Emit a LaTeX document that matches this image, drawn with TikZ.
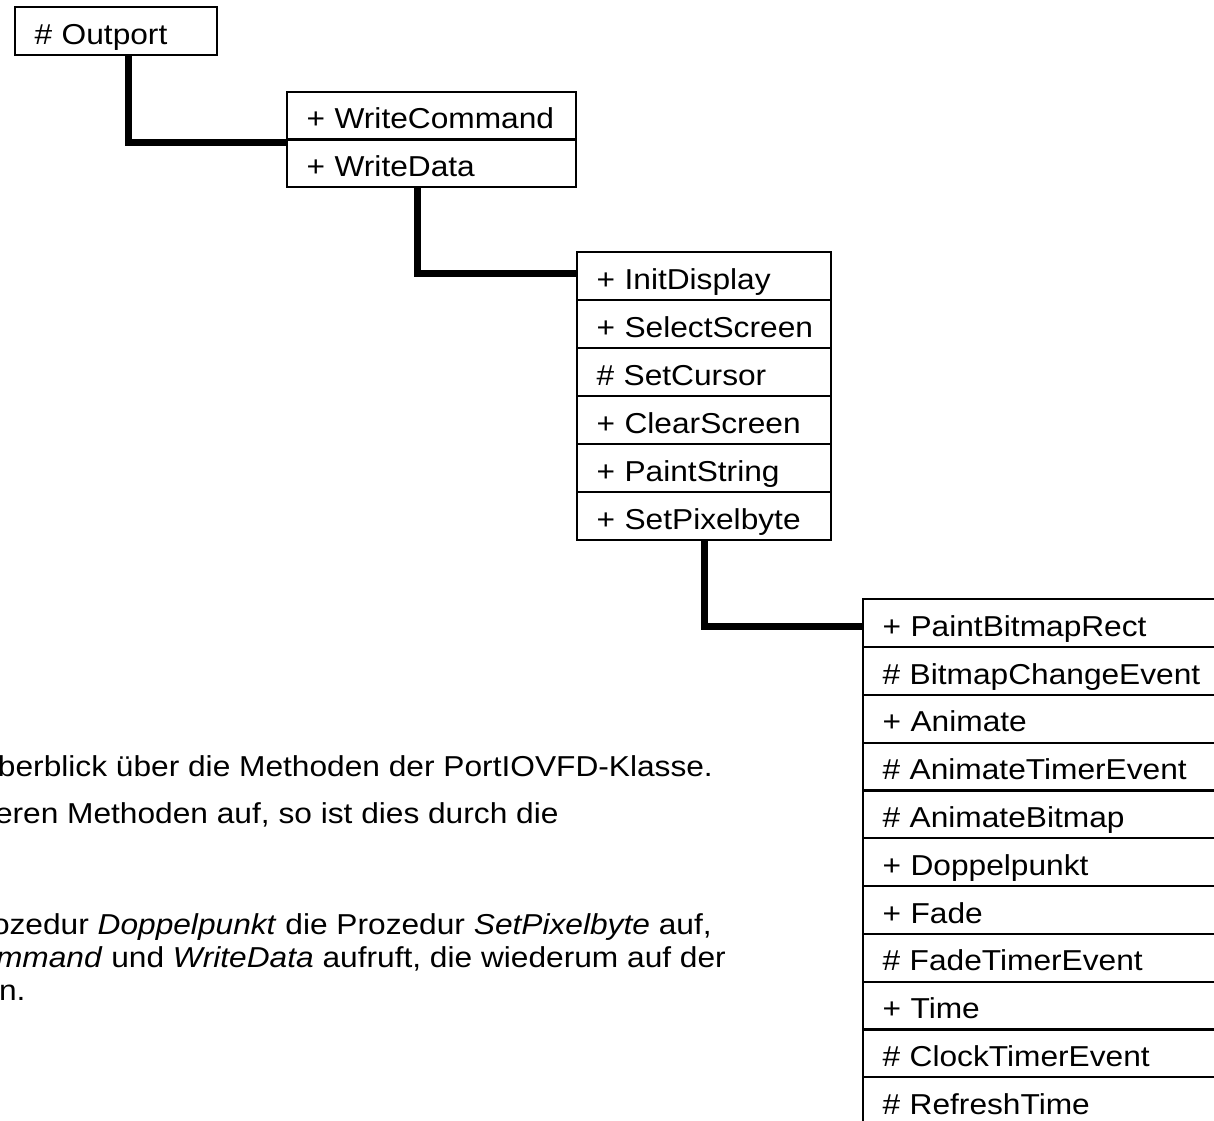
\documentclass[tikz,border=0pt]{standalone}
\usepackage{fontspec}
\setmainfont{Liberation Sans}[FakeStretch=1.1]
\usetikzlibrary{positioning,calc}
\begin{document}
\begin{tikzpicture}[x=1pt,y=-1pt,
  every node/.style={font=\fontsize{28.8}{33}\selectfont},
  member/.style={draw, line width=2.2pt, rectangle, outer sep=0pt,
    inner xsep=19.5pt, inner ysep=0pt, text height=28pt, text depth=2pt,
    align=left, execute at begin node={\leavevmode\hbox\bgroup},
    execute at end node={\egroup}},
  box1/.style={member, text width=163pt, minimum height=48pt},
  box2/.style={member, text width=250pt, minimum height=47.5pt},
  box3/.style={member, text width=215pt, minimum height=48pt},
  box4/.style={member, text width=313pt, minimum height=47.8pt},
  link/.style={draw, line width=7pt, line join=miter},
  para/.style={anchor=base west, inner sep=0pt, outer sep=0pt}]

\useasboundingbox (0,0) rectangle (1214,1120);
\clip (0,0) rectangle (1214,1120);

% level 1
\node[box1, anchor=north west] (outport) at (15,7) {\# Outport};

% level 2
\node[box2, anchor=north west] (wcmd) at (287,92) {+ WriteCommand};
\node[box2, below=0pt of wcmd] (wdata) {+ WriteData};

% level 3
\node[box3, anchor=north west] (initd) at (577,252) {+ InitDisplay};
\node[box3, below=0pt of initd] (selscr) {+ SelectScreen};
\node[box3, below=0pt of selscr] (setcur) {\# SetCursor};
\node[box3, below=0pt of setcur] (clrscr) {+ ClearScreen};
\node[box3, below=0pt of clrscr] (paintstr) {+ PaintString};
\node[box3, below=0pt of paintstr] (setpix) {+ SetPixelbyte};

% level 4
\node[box4, anchor=north west] (pbr) at (863,599.3) {+ PaintBitmapRect};
\node[box4, below=0pt of pbr] (bce) {\# BitmapChangeEvent};
\node[box4, below=0pt of bce] (anim) {+ Animate};
\node[box4, below=0pt of anim] (ate) {\# AnimateTimerEvent};
\node[box4, below=0pt of ate] (abm) {\# AnimateBitmap};
\node[box4, below=0pt of abm] (dpp) {+ Doppelpunkt};
\node[box4, below=0pt of dpp] (fade) {+ Fade};
\node[box4, below=0pt of fade] (fte) {\# FadeTimerEvent};
\node[box4, below=0pt of fte] (time) {+ Time};
\node[box4, below=0pt of time] (cte) {\# ClockTimerEvent};
\node[box4, below=0pt of cte] (rft) {\# RefreshTime};

% call connectors
\draw[link] ($(outport.south west)!0.56!(outport.south east)$) |- ([yshift=-3pt]wcmd.south west);
\draw[link] ($(wdata.south west)!0.45!(wdata.south east)$) |- ([yshift=3pt]initd.west);
\draw[link] (setpix.south) |- ([yshift=-3pt]pbr.west);

% running text
\node[para] (p1) at (-2,776) {berblick über die Methoden der PortIOVFD-Klasse.};
\node[para] (p2) at (-5,823) {eren Methoden auf, so ist dies durch die};
\node[para] (p3) at (-8,934) {ozedur \textit{Doppelpunkt} die Prozedur \textit{SetPixelbyte} auf,};
\node[para] (p4) at (-4,967) {\textit{mmand} und \textit{WriteData} aufruft, die wiederum auf der};
\node[para] (p5) at (-1,1000) {n.};
\end{tikzpicture}
\end{document}
